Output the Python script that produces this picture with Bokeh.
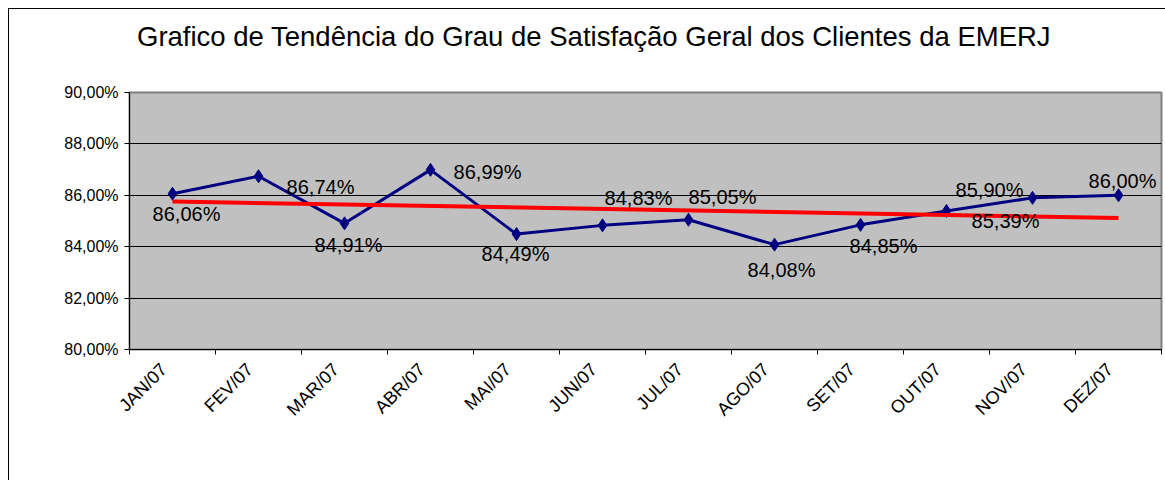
import math
from bokeh.plotting import figure
from bokeh.layouts import column
from bokeh.models import Range1d, FixedTicker, LinearAxis, ColumnDataSource, Div
from bokeh.core.properties import value
from bokeh.embed import file_html
from bokeh.resources import INLINE

# ---- data ----
months = ["JAN/07", "FEV/07", "MAR/07", "ABR/07", "MAI/07", "JUN/07",
          "JUL/07", "AGO/07", "SET/07", "OUT/07", "NOV/07", "DEZ/07"]
satisfacao = [86.06, 86.74, 84.91, 86.99, 84.49, 84.83,
              85.05, 84.08, 84.85, 85.39, 85.90, 86.00]
tendencia = [85.76, 85.12]          # linear trend at JAN/07 and DEZ/07
y_ticks = [80, 82, 84, 86, 88, 90]
titulo = "Grafico de Tendência do Grau de Satisfação Geral dos Clientes da EMERJ"

# ---- label placement (style, screen px) ----
label_dx = [14, 62, 4, 57, -1, 36, 34, 7, 23, 59, -43, 4]
label_dy = [20, 11, 22, 2, 20, -27, -23, 25, 21, 10, -8, -14]

FONT = "Liberation Sans"

xs = [i + 0.5 for i in range(len(months))]
lab_pos = [x - 0.1 for x in xs]
labels = [("%.2f" % v).replace(".", ",") + "%" for v in satisfacao]

header = Div(text=titulo, width=1156, height=73, margin=0,
             styles={"font-family": FONT, "font-size": "27.5px", "color": "black",
                     "line-height": "1", "padding-left": "128px",
                     "padding-top": "14px", "box-sizing": "border-box",
                     "white-space": "nowrap", "background": "white"})

p = figure(width=1156, height=398, output_backend="svg", toolbar_location=None,
           x_range=Range1d(0, len(months)), y_range=Range1d(y_ticks[0], y_ticks[-1]),
           min_border_left=120, min_border_right=4, min_border_top=10,
           min_border_bottom=131)
p.margin = 0
p.background_fill_color = "#C0C0C0"
p.border_fill_color = "white"
p.outline_line_color = "#808080"
p.outline_line_width = 2

# grid
p.xgrid.visible = False
p.ygrid.ticker = FixedTicker(ticks=y_ticks)
p.ygrid.grid_line_color = "#000000"
p.ygrid.grid_line_width = 1

# y axis
p.yaxis.ticker = FixedTicker(ticks=y_ticks)
p.yaxis.major_label_overrides = {t: "%d,00%%" % t for t in y_ticks}
p.yaxis.major_label_text_font = FONT
p.yaxis.major_label_text_font_size = "16px"
p.yaxis.major_label_text_color = "black"
p.yaxis.major_label_standoff = 6
p.yaxis.major_tick_out = 5
p.yaxis.major_tick_in = 0
p.yaxis.minor_tick_line_color = None
p.yaxis.axis_line_color = "black"
p.yaxis.major_tick_line_color = "black"

# x axis: boundary ticks only
p.xaxis.ticker = FixedTicker(ticks=list(range(len(months) + 1)))
p.xaxis.major_label_overrides = {i: "" for i in range(len(months) + 1)}
p.xaxis.major_label_text_font_size = "1px"
p.xaxis.major_label_standoff = 0
p.xaxis.major_tick_out = 5
p.xaxis.major_tick_in = 0
p.xaxis.minor_tick_line_color = None
p.xaxis.axis_line_color = "black"
p.xaxis.major_tick_line_color = "black"

# x axis: month labels
lab_axis = LinearAxis(ticker=FixedTicker(ticks=lab_pos),
                      major_label_overrides={x: m for x, m in zip(lab_pos, months)},
                      major_label_orientation=math.pi / 4,
                      axis_line_color=None, major_tick_line_color=None,
                      minor_tick_line_color=None, major_label_standoff=6,
                      major_label_text_font=FONT,
                      major_label_text_font_size="18px",
                      major_label_text_color="black")
p.add_layout(lab_axis, "below")

# series
p.line(xs, satisfacao, line_color="#000080", line_width=3)
p.scatter(xs, satisfacao, marker="diamond", size=13, color="#000080")
p.line([xs[0], xs[-1]], tendencia, line_color="#FF0000", line_width=4)

src = ColumnDataSource(dict(x=xs, y=satisfacao, t=labels, dx=label_dx, dy=label_dy))
p.text(x="x", y="y", text="t", x_offset="dx", y_offset="dy", source=src,
       text_align="center", text_baseline="middle",
       text_font=value(FONT), text_font_size="20px", text_color="black")

layout = column(header, p, spacing=0)
layout.margin = (8, 0, 0, 8)
layout.styles = {"border-style": "solid none none solid", "border-width": "1px",
                 "border-color": "#000"}

open("out.html", "w").write(file_html(layout, INLINE))
